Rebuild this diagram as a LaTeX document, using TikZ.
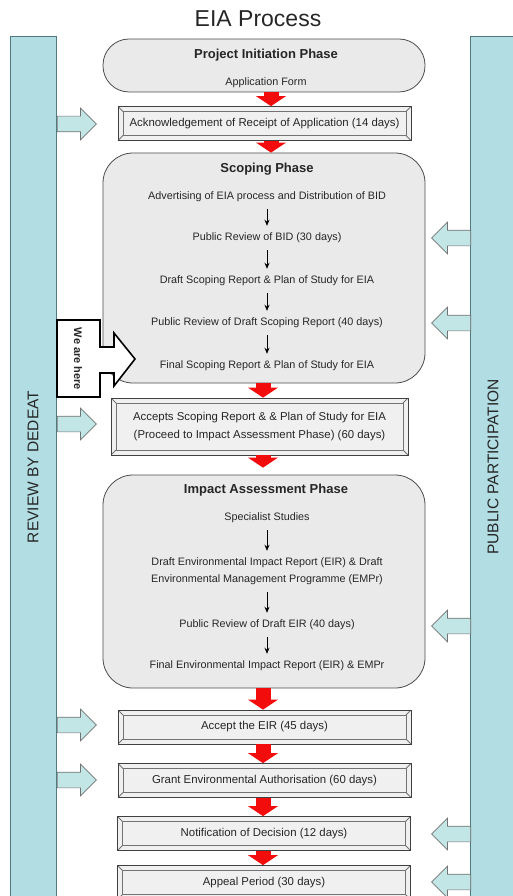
\documentclass[tikz,border=0pt]{standalone}
\usepackage{fontspec}
\setmainfont{Liberation Sans}
\usetikzlibrary{arrows.meta,shapes.arrows}
\definecolor{eiared}{HTML}{F20C0C}
\definecolor{eiabar}{HTML}{B2DDE3}
\definecolor{eiabarline}{HTML}{4E7A80}
\definecolor{eiaarrow}{HTML}{C2E5E5}
\definecolor{eiagrey}{HTML}{EAEAEA}
\definecolor{eiatext}{HTML}{262626}

\begin{document}
\begin{tikzpicture}[x=1pt,y=-1pt,
  sidebar/.style={draw=eiabarline,fill=eiabar,line width=0.8pt,rotate=90,
    minimum width=862pt,minimum height=46pt,inner sep=0pt,
    font=\fontsize{15.5}{18}\selectfont,text=eiatext},
  phase/.style={draw=black!70,fill=eiagrey,line width=0.8pt,rounded corners=30pt,
    minimum width=322pt,inner sep=0pt},
  head/.style={font=\bfseries\fontsize{13}{15}\selectfont,text=eiatext},
  item/.style={font=\fontsize{10.8}{17}\selectfont,text=eiatext,align=center,
    inner xsep=2pt,inner ysep=7pt},
  bevel/.style={draw=black!75,fill=black!6,line width=0.8pt,minimum width=293pt,
    minimum height=34pt,align=center,text=eiatext,font=\fontsize{11.4}{18}\selectfont,
    path picture={
      \draw[black!55] ([shift={(5pt,-5pt)}]path picture bounding box.north west)
        rectangle ([shift={(-5pt,5pt)}]path picture bounding box.south east);
      \draw[black!55] (path picture bounding box.north west) -- ++(5pt,-5pt)
        (path picture bounding box.north east) -- ++(-5pt,-5pt)
        (path picture bounding box.south west) -- ++(5pt,5pt)
        (path picture bounding box.south east) -- ++(-5pt,5pt);}},
  flow/.style={-{Stealth[length=6pt,width=5pt]},line width=0.7pt,black},
  bigflow/.style={draw=eiared,line width=15pt,
    -{Triangle[width=30pt,length=10pt,line width=0pt]}},
  inarrow/.style={single arrow,draw=black!55,fill=eiaarrow,line width=0.7pt,
    minimum height=39pt,minimum width=31pt,single arrow head extend=8pt,
    inner xsep=0pt,inner ysep=7.5pt},
  here/.style={draw=black,line width=1.6pt,fill=white}]
  \useasboundingbox (0,0) rectangle (512,896);
  \coordinate (spinetop) at (271,0);
  \coordinate (spine) at (263,0);

  % side bars
  \node[sidebar] (review) at (33,467) {REVIEW BY DEDEAT};
  \node[sidebar] (public) at (493,467) {PUBLIC PARTICIPATION};
  \node[font=\fontsize{23}{26}\selectfont,text=eiatext] (title) at (258,19) {EIA Process};

  % project initiation
  \node[phase,rounded corners=26pt,minimum height=53pt] (init) at (264,65.5) {};
  \node[head] (inith) at (266,55) {Project Initiation Phase};
  \node[item,inner ysep=2pt] (appl) at (266,83) {Application Form};
  \node[bevel] (ack) at (264.5,123.5) {Acknowledgement of Receipt of Application (14 days)};

  % scoping
  \node[phase,minimum height=230pt] (scope) at (264,268) {};
  \node[head] (scopeh) at (267,169) {Scoping Phase};
  \node[item] (s1) at (267,197) {Advertising of EIA process and Distribution of BID};
  \node[item] (s2) at (267,238) {Public Review of BID (30 days)};
  \node[item] (s3) at (267,281) {Draft Scoping Report \& Plan of Study for EIA};
  \node[item] (s4) at (267,323) {Public Review of Draft Scoping Report (40 days)};
  \node[item] (s5) at (267,366) {Final Scoping Report \& Plan of Study for EIA};
  \draw[flow] (s1) -- (s2);
  \draw[flow] (s2) -- (s3);
  \draw[flow] (s3) -- (s4);
  \draw[flow] (s4) -- (s5);
  \node[bevel,minimum width=297pt,minimum height=57pt] (accepts) at (259.5,426.5)
    {Accepts Scoping Report \& \& Plan of Study for EIA\\(Proceed to Impact Assessment Phase) (60 days)};

  % impact assessment
  \node[phase,minimum height=213pt] (impact) at (264,581.5) {};
  \node[head] (impacth) at (266,490) {Impact Assessment Phase};
  \node[item] (i1) at (267,518) {Specialist Studies};
  \node[item] (i2) at (267,571.5) {Draft Environmental Impact Report (EIR) \& Draft\\Environmental Management Programme (EMPr)};
  \node[item] (i3) at (267,625) {Public Review of Draft EIR (40 days)};
  \node[item] (i4) at (267,666) {Final Environmental Impact Report (EIR) \& EMPr};
  \draw[flow] (i1) -- (i2);
  \draw[flow] (i2) -- (i3);
  \draw[flow] (i3) -- (i4);

  \node[bevel] (eir) at (264.5,727) {Accept the EIR (45 days)};
  \node[bevel] (grant) at (264.5,780.5) {Grant Environmental Authorisation (60 days)};
  \node[bevel] (notify) at (264,833.5) {Notification of Decision (12 days)};
  \node[bevel] (appeal) at (264,882.5) {Appeal Period (30 days)};

  % main flow
  \draw[bigflow] (init.south -| spinetop) -- (ack.north -| spinetop);
  \draw[bigflow] (ack.south -| spinetop) -- (scope.north -| spinetop);
  \draw[bigflow] (scope.south -| spine) -- (accepts.north -| spine);
  \draw[bigflow,shorten >=7pt] (accepts.south -| spine) -- (impact.north -| spine);
  \draw[bigflow] (impact.south -| spine) -- (eir.north -| spine);
  \draw[bigflow] (eir.south -| spine) -- (grant.north -| spine);
  \draw[bigflow] (grant.south -| spine) -- (notify.north -| spine);
  \draw[bigflow] (notify.south -| spine) -- (appeal.north -| spine);

  % review and participation inputs
  \node[inarrow,anchor=tail] (r1) at (57,124) {};
  \node[inarrow,anchor=tail] (r2) at (57,424) {};
  \node[inarrow,anchor=tail] (r3) at (57,725) {};
  \node[inarrow,anchor=tail] (r4) at (57,780) {};
  \node[inarrow,shape border rotate=180,anchor=tail] (p1) at (471,238) {};
  \node[inarrow,shape border rotate=180,anchor=tail] (p2) at (471,323) {};
  \node[inarrow,shape border rotate=180,anchor=tail] (p3) at (471,626) {};
  \node[inarrow,shape border rotate=180,anchor=tail] (p4) at (471,834) {};
  \node[inarrow,shape border rotate=180,anchor=tail] (p5) at (471,882) {};

  % we are here
  \draw[here] (57,320) -- (100,320) -- (100,347) -- (114,347) -- (114,333) -- (135,359)
    -- (114,386) -- (114,373) -- (100,373) -- (100,397) -- (57,397) -- cycle;
  \node[rotate=-90,font=\bfseries\fontsize{11}{13}\selectfont,text=eiatext] (hereh) at (78,359) {We are here};
\end{tikzpicture}
\end{document}
